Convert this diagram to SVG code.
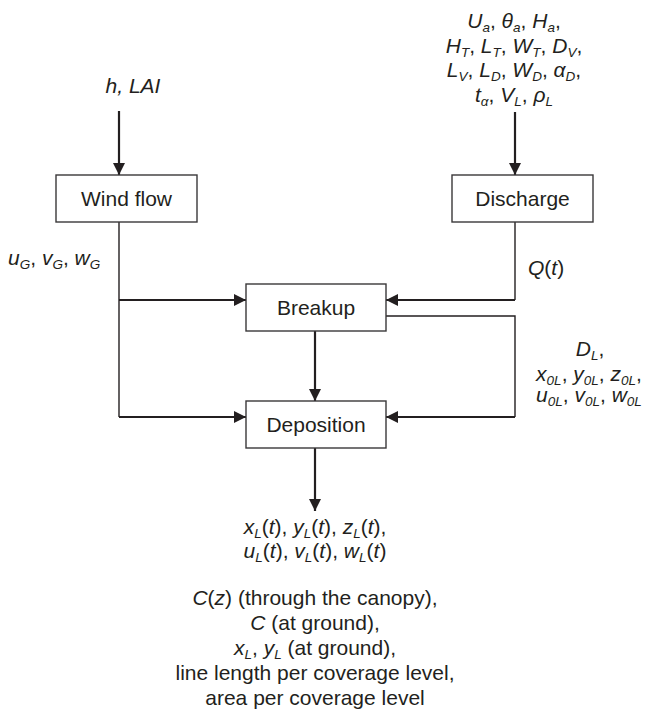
<svg xmlns="http://www.w3.org/2000/svg" width="647" height="717" viewBox="0 0 647 717">
<style>
text{font-family:"Liberation Sans",Arial,sans-serif;font-size:21px;fill:#231f20}
.m{text-anchor:middle}
.i{font-style:italic}
.s{font-size:13.5px;font-style:italic}
.box{fill:#fff;stroke:#3a3839;stroke-width:1.4}
.thin{fill:none;stroke:#231f20;stroke-width:1.4}
.arr{fill:none;stroke:#231f20;stroke-width:2.2;marker-end:url(#ah)}
</style>
<defs>
<marker id="ah" markerUnits="userSpaceOnUse" markerWidth="12" markerHeight="12" refX="12" refY="6" orient="auto">
<path d="M0,0 L12,6 L0,12 z" fill="#231f20"/>
</marker>
</defs>
<g id="connectors">
<path class="arr" d="M119,111 V175"/>
<path class="arr" d="M515,112 V175"/>
<path class="thin" d="M119,222 V417"/>
<path class="arr" d="M119,300 H246"/>
<path class="arr" d="M119,417 H246"/>
<path class="thin" d="M515,222 V300"/>
<path class="arr" d="M515,300 H386"/>
<path class="thin" d="M386,316 H515 V417"/>
<path class="arr" d="M515,417 H386"/>
<path class="arr" d="M315,331 V401"/>
<path class="arr" d="M315,448 V511"/>
</g>
<g id="windflow">
<rect class="box" x="56" y="175" width="141" height="47"/>
<text class="m" x="126.5" y="206">Wind flow</text>
</g>
<g id="discharge">
<rect class="box" x="452" y="175" width="141" height="47"/>
<text class="m" x="522.5" y="206">Discharge</text>
</g>
<g id="breakup">
<rect class="box" x="246" y="284" width="140" height="47"/>
<text class="m" x="316" y="315">Breakup</text>
</g>
<g id="deposition">
<rect class="box" x="246" y="401" width="140" height="47"/>
<text class="m" x="316" y="432">Deposition</text>
</g>
<g id="labels">
<text class="m i" x="133" y="93">h, LAI</text>
<text class="m" x="514" y="28"><tspan class="i">U</tspan><tspan class="s" dy="4">a</tspan><tspan dy="-4">, </tspan><tspan class="i">θ</tspan><tspan class="s" dy="4">a</tspan><tspan dy="-4">, </tspan><tspan class="i">H</tspan><tspan class="s" dy="4">a</tspan><tspan dy="-4">,</tspan></text>
<text class="m" x="514" y="52.5"><tspan class="i">H</tspan><tspan class="s" dy="4">T</tspan><tspan dy="-4">, </tspan><tspan class="i">L</tspan><tspan class="s" dy="4">T</tspan><tspan dy="-4">, </tspan><tspan class="i">W</tspan><tspan class="s" dy="4">T</tspan><tspan dy="-4">, </tspan><tspan class="i">D</tspan><tspan class="s" dy="4">V</tspan><tspan dy="-4">,</tspan></text>
<text class="m" x="514" y="77"><tspan class="i">L</tspan><tspan class="s" dy="4">V</tspan><tspan dy="-4">, </tspan><tspan class="i">L</tspan><tspan class="s" dy="4">D</tspan><tspan dy="-4">, </tspan><tspan class="i">W</tspan><tspan class="s" dy="4">D</tspan><tspan dy="-4">, </tspan><tspan class="i">α</tspan><tspan class="s" dy="4">D</tspan><tspan dy="-4">,</tspan></text>
<text class="m" x="514" y="101.5"><tspan class="i">t</tspan><tspan class="s" dy="4">α</tspan><tspan dy="-4">, </tspan><tspan class="i">V</tspan><tspan class="s" dy="4">L</tspan><tspan dy="-4">, </tspan><tspan class="i">ρ</tspan><tspan class="s" dy="4">L</tspan></text>
<text x="8" y="265"><tspan class="i">u</tspan><tspan class="s" dy="4">G</tspan><tspan dy="-4">, </tspan><tspan class="i">v</tspan><tspan class="s" dy="4">G</tspan><tspan dy="-4">, </tspan><tspan class="i">w</tspan><tspan class="s" dy="4">G</tspan></text>
<text x="528" y="275"><tspan class="i">Q</tspan>(<tspan class="i">t</tspan>)</text>
<text class="m" x="590" y="356"><tspan class="i">D</tspan><tspan class="s" dy="4">L</tspan><tspan dy="-4">,</tspan></text>
<text class="m" x="589" y="381"><tspan class="i">x</tspan><tspan class="s" dy="4">0L</tspan><tspan dy="-4">, </tspan><tspan class="i">y</tspan><tspan class="s" dy="4">0L</tspan><tspan dy="-4">, </tspan><tspan class="i">z</tspan><tspan class="s" dy="4">0L</tspan><tspan dy="-4">,</tspan></text>
<text class="m" x="589" y="402"><tspan class="i">u</tspan><tspan class="s" dy="4">0L</tspan><tspan dy="-4">, </tspan><tspan class="i">v</tspan><tspan class="s" dy="4">0L</tspan><tspan dy="-4">, </tspan><tspan class="i">w</tspan><tspan class="s" dy="4">0L</tspan></text>
<text class="m" x="315" y="534"><tspan class="i">x</tspan><tspan class="s" dy="4">L</tspan><tspan dy="-4">(</tspan><tspan class="i">t</tspan>), <tspan class="i">y</tspan><tspan class="s" dy="4">L</tspan><tspan dy="-4">(</tspan><tspan class="i">t</tspan>), <tspan class="i">z</tspan><tspan class="s" dy="4">L</tspan><tspan dy="-4">(</tspan><tspan class="i">t</tspan>),</text>
<text class="m" x="315" y="558"><tspan class="i">u</tspan><tspan class="s" dy="4">L</tspan><tspan dy="-4">(</tspan><tspan class="i">t</tspan>), <tspan class="i">v</tspan><tspan class="s" dy="4">L</tspan><tspan dy="-4">(</tspan><tspan class="i">t</tspan>), <tspan class="i">w</tspan><tspan class="s" dy="4">L</tspan><tspan dy="-4">(</tspan><tspan class="i">t</tspan>)</text>
<text class="m" x="315" y="605"><tspan class="i">C</tspan>(<tspan class="i">z</tspan>) (through the canopy),</text>
<text class="m" x="315" y="630"><tspan class="i">C</tspan> (at ground),</text>
<text class="m" x="315" y="655"><tspan class="i">x</tspan><tspan class="s" dy="4">L</tspan><tspan dy="-4">, </tspan><tspan class="i">y</tspan><tspan class="s" dy="4">L</tspan><tspan dy="-4"> (at ground),</tspan></text>
<text class="m" x="315" y="680">line length per coverage level,</text>
<text class="m" x="315" y="705">area per coverage level</text>
</g>
</svg>
